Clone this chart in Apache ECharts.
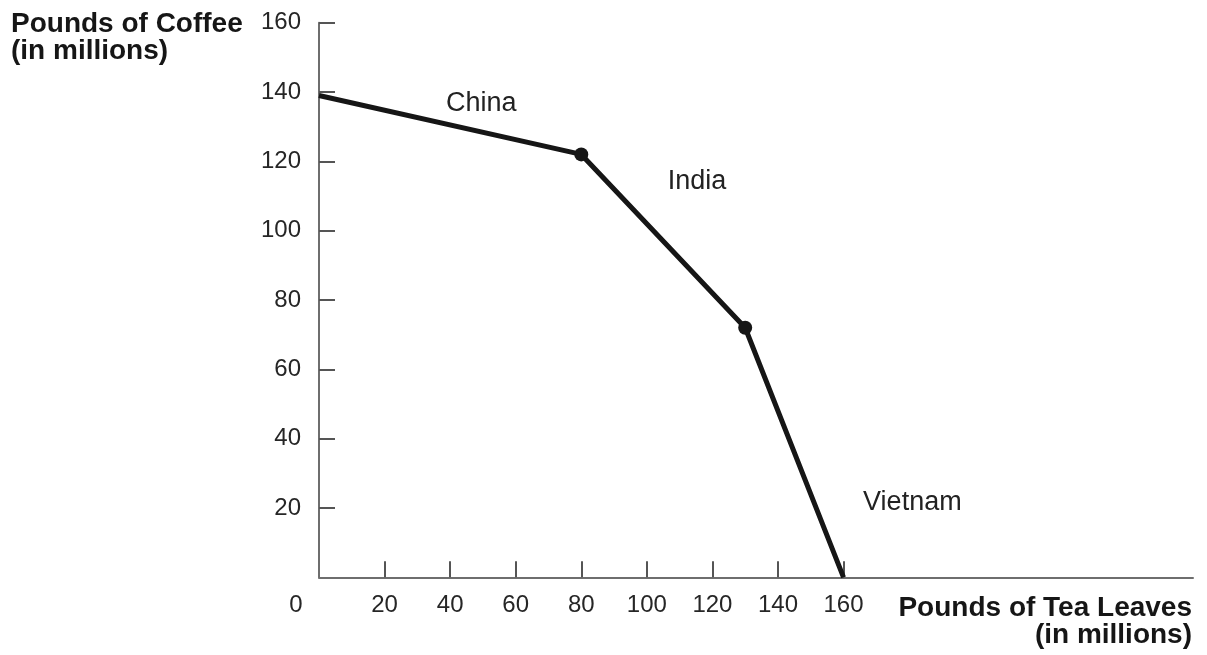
<!DOCTYPE html>
<html>
<head>
<meta charset="utf-8">
<script src="https://cdn.jsdelivr.net/npm/echarts@6/dist/echarts.min.js"></script>
<style>
html,body{margin:0;padding:0;background:#fff;}
#chart{width:1207px;height:655px;}
</style>
</head>
<body>
<div id="chart"></div>
<script>
// ---- data ----
const teaValues = [0, 80, 130, 160];
const coffeeValues = [139, 122, 72, 0];
const kinkFlags = [false, true, true, false];
const regionNames = ['China', 'India', 'Vietnam'];
const regionTea = [49.5, 115.3, 181];
const regionCoffee = [136.8, 114.3, 21.6];
const xTickValues = [20, 40, 60, 80, 100, 120, 140, 160];
const xLabelValues = [0, 20, 40, 60, 80, 100, 120, 140, 160];
const yTickValues = [20, 40, 60, 80, 100, 120, 140, 160];
const yTitleLines = ['Pounds of Coffee', '(in millions)'];
const xTitleLines = ['Pounds of Tea Leaves', '(in millions)'];

const font = '"Liberation Sans", Arial, Helvetica, sans-serif';
const chart = echarts.init(document.getElementById('chart'), null, {renderer: 'canvas'});

const lineData = teaValues.map((x, i) => ({
  value: [x, coffeeValues[i]],
  symbol: kinkFlags[i] ? 'circle' : 'none'
}));
const regionData = regionNames.map((n, i) => ({name: n, value: [regionTea[i], regionCoffee[i]]}));

const titleFont = 'bold 28px ' + font;
const option = {
  animation: false,
  backgroundColor: '#ffffff',
  grid: {left: 319, top: 22.7, width: 874, height: 554.6, containLabel: false},
  xAxis: {
    type: 'value', min: 0, max: 266.6,
    splitLine: {show: false},
    axisLine: {show: true, onZero: false, lineStyle: {color: '#6e6e6e', width: 2}},
    axisTick: {show: true, inside: true, length: 16, customValues: xTickValues,
      lineStyle: {color: '#555', width: 2}},
    axisLabel: {
      show: true, margin: 16, customValues: xLabelValues,
      fontFamily: font, fontSize: 24, color: '#262626',
      formatter: v => v === 0 ? '{z|0}' : String(v),
      rich: {z: {padding: [0, 46, 0, 0], fontFamily: font, fontSize: 24, color: '#262626'}}
    }
  },
  yAxis: {
    type: 'value', min: 0, max: 160,
    splitLine: {show: false},
    axisLine: {show: true, onZero: false, lineStyle: {color: '#6e6e6e', width: 2}},
    axisTick: {show: true, inside: true, length: 16, customValues: yTickValues,
      lineStyle: {color: '#555', width: 2}},
    axisLabel: {
      show: true, margin: 18, customValues: yTickValues,
      fontFamily: font, fontSize: 24, color: '#262626'
    }
  },
  series: [
    {
      type: 'line', data: lineData,
      showAllSymbol: true, symbolSize: 14,
      lineStyle: {color: '#161616', width: 5},
      itemStyle: {color: '#161616'},
      z: 3
    },
    {
      type: 'scatter', data: regionData, symbolSize: 0,
      itemStyle: {opacity: 1},
      label: {show: true, position: 'inside', formatter: p => p.name,
        fontFamily: font, fontSize: 27, color: '#222222'},
      silent: true
    }
  ],
  graphic: [
    {type: 'text', left: 11, top: 10, style: {text: yTitleLines[0], font: titleFont, fill: '#161616'}},
    {type: 'text', left: 11, top: 37, style: {text: yTitleLines[1], font: titleFont, fill: '#161616'}},
    {type: 'text', right: 15, top: 594, style: {text: xTitleLines[0], font: titleFont, fill: '#161616'}},
    {type: 'text', right: 15, top: 621, style: {text: xTitleLines[1], font: titleFont, fill: '#161616'}}
  ]
};
chart.setOption(option);
</script>
</body>
</html>
